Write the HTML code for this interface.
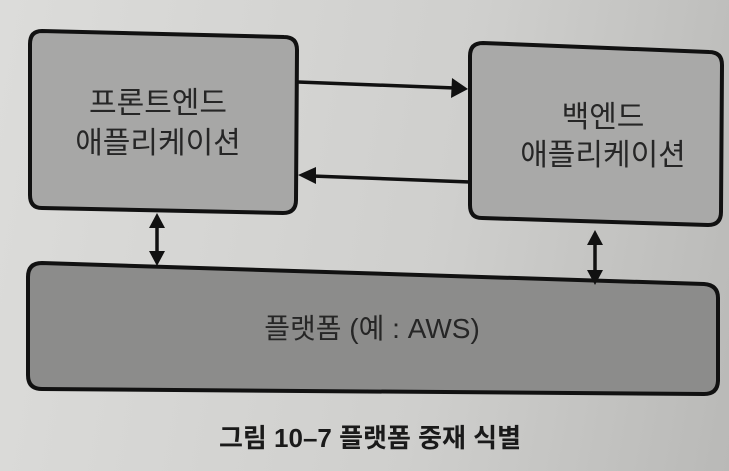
<!DOCTYPE html>
<html><head><meta charset="utf-8"><style>
html,body{margin:0;padding:0;width:729px;height:471px;overflow:hidden;}
body{background:linear-gradient(100deg,#dcdcda 0%,#cfcfcd 60%,#b9b9b7 100%);}
svg text{font-family:"Liberation Sans","Noto Sans CJK KR",sans-serif;}
</style></head><body>
<svg width="729" height="471" viewBox="0 0 729 471" xmlns="http://www.w3.org/2000/svg">
<!-- front box -->
<path d="M42,31 L284,37 Q297,37 297,50 L296,200 Q296,213 283,213 L42,208 Q30,208 30,195 L30,44 Q30,31 42,31 Z" fill="#a7a7a6" stroke="#111" stroke-width="4"/>
<!-- back box -->
<path d="M483,43 L709,52 Q722,52 722,65 L721,212 Q721,225 708,225 L482,218 Q470,218 470,205 L470,56 Q470,43 483,43 Z" fill="#a9a9a8" stroke="#111" stroke-width="4"/>
<!-- platform -->
<path d="M42,263 L704,284 Q718,285 718,298 L718,380 Q718,394 704,394 L42,389 Q28,389 28,375 L28,277 Q28,263 42,263 Z" fill="#8c8c8b" stroke="#111" stroke-width="4"/>
<!-- horizontal arrows -->
<line x1="298" y1="82" x2="455" y2="88" stroke="#111" stroke-width="3.5"/>
<path d="M452,78 L468,89 L451,98 Z" fill="#111"/>
<line x1="470" y1="182" x2="312" y2="176" stroke="#111" stroke-width="3.5"/>
<path d="M316,167 L298,175 L316,184 Z" fill="#111"/>
<!-- vertical arrows -->
<line x1="157" y1="222" x2="157" y2="256" stroke="#111" stroke-width="3.5"/>
<path d="M149,228 L157,213 L165,228 Z M149,251 L157,266 L165,251 Z" fill="#111"/>
<line x1="595" y1="240" x2="595" y2="275" stroke="#111" stroke-width="3.5"/>
<path d="M587,245 L595,230 L603,245 Z M587,270 L595,285 L603,270 Z" fill="#111"/>
<!-- labels -->
<text x="158" y="113" font-size="30" fill="#262626" text-anchor="middle">프론트엔드</text>
<text x="158" y="153" font-size="30" fill="#262626" text-anchor="middle">애플리케이션</text>
<text x="603" y="127" font-size="30" fill="#262626" text-anchor="middle">백엔드</text>
<text x="603" y="165" font-size="30" fill="#262626" text-anchor="middle">애플리케이션</text>
<text x="372" y="338" font-size="28" fill="#262626" text-anchor="middle">플랫폼 (예 : AWS)</text>
<text x="370" y="447" font-size="26" font-weight="bold" fill="#1a1a1a" text-anchor="middle">그림 10–7  플랫폼 중재 식별</text>
</svg>
</body></html>
